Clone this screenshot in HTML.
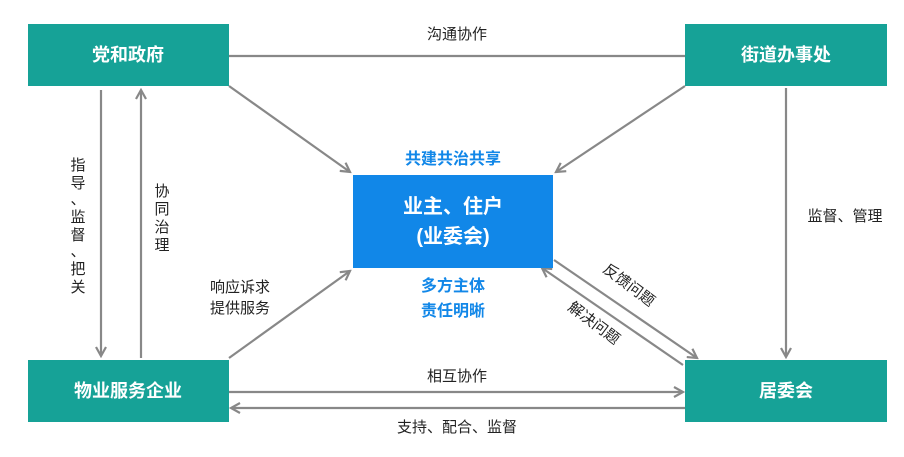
<!DOCTYPE html>
<html><head><meta charset="utf-8"><style>
body{margin:0;background:#fff;}
svg text{font-family:"Liberation Sans","Noto Sans CJK SC",sans-serif;}
</style></head><body>
<svg width="904" height="452" viewBox="0 0 904 452" xmlns="http://www.w3.org/2000/svg">
<defs>
<marker id="a" markerWidth="12" markerHeight="12" refX="10" refY="6" orient="auto" markerUnits="userSpaceOnUse">
<path d="M1,1 L10,6 L1,11" fill="none" stroke="#888" stroke-width="2.2"/>
</marker>
</defs>
<g stroke="#888" stroke-width="2.2" fill="none">
<line x1="229" y1="56" x2="685" y2="56"/>
<line x1="229" y1="86" x2="350" y2="172" marker-end="url(#a)"/>
<line x1="685" y1="86" x2="556" y2="172" marker-end="url(#a)"/>
<line x1="101" y1="90" x2="101" y2="356" marker-end="url(#a)"/>
<line x1="141" y1="358" x2="141" y2="90" marker-end="url(#a)"/>
<line x1="786" y1="88" x2="786" y2="357" marker-end="url(#a)"/>
<line x1="229" y1="358" x2="350" y2="271" marker-end="url(#a)"/>
<line x1="229" y1="392" x2="683" y2="392" marker-end="url(#a)"/>
<line x1="685" y1="408" x2="231" y2="408" marker-end="url(#a)"/>
<line x1="554" y1="260" x2="697" y2="358" marker-end="url(#a)"/>
<line x1="683" y1="365" x2="542" y2="268" marker-end="url(#a)"/>
</g>
<g fill="#16a297">
<rect x="28" y="24" width="201" height="62"/>
<rect x="685" y="24" width="202" height="62"/>
<rect x="28" y="360" width="201" height="62"/>
<rect x="685" y="360" width="202" height="62"/>
</g>
<rect x="353" y="175" width="200" height="93" fill="#1187e8"/>
<g fill="#fff" font-size="18" font-weight="bold" text-anchor="middle">
<text x="128" y="61">党和政府</text>
<text x="786" y="61">街道办事处</text>
<text x="128" y="397">物业服务企业</text>
<text x="786" y="397">居委会</text>
<text x="453" y="213" font-size="20">业主、住户</text>
<text x="453" y="243" font-size="20">(业委会)</text>
</g>
<g fill="#1187e8" font-size="16" font-weight="bold" text-anchor="middle">
<text x="453" y="164">共建共治共享</text>
<text x="453" y="291">多方主体</text>
<text x="453" y="316">责任明晰</text>
</g>
<g fill="#222" font-size="15" text-anchor="middle">
<text x="457" y="39">沟通协作</text>
<text x="845" y="221">监督、管理</text>
<text x="240" y="292">响应诉求</text>
<text x="240" y="313">提供服务</text>
<text x="457" y="381">相互协作</text>
<text x="457" y="432">支持、配合、监督</text>
<text x="78" y="170">指</text><text x="78" y="188">导</text><text x="78" y="204">、</text>
<text x="78" y="222">监</text><text x="78" y="240">督</text><text x="78" y="256">、</text>
<text x="78" y="274">把</text><text x="78" y="292">关</text>
<text x="162" y="196">协</text><text x="162" y="214">同</text><text x="162" y="232">治</text><text x="162" y="250">理</text>
<text transform="translate(626,289) rotate(37)">反馈问题</text>
<text transform="translate(591,327) rotate(37)">解决问题</text>
</g>
</svg>
</body></html>
